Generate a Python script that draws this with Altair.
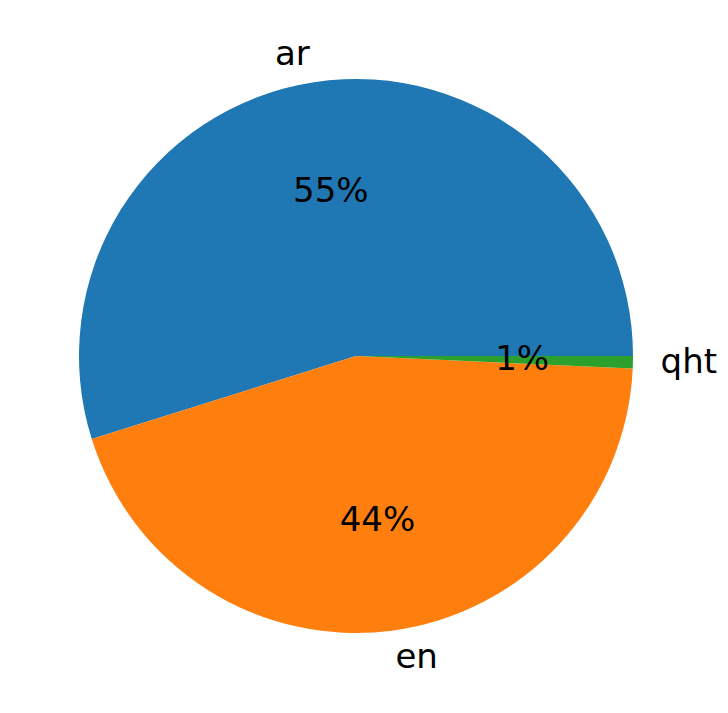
import math
import altair as alt
import pandas as pd

labels = ["ar", "en", "qht"]
shares = [54.85, 44.43, 0.72]
pct_labels = ["55%", "44%", "1%"]
colors = ["#1f77b4", "#ff7f0e", "#2ca02c"]

df = pd.DataFrame({"label": labels, "value": shares, "pct": pct_labels,
                   "idx": list(range(len(labels)))})

CX, CY, R = 348, 348, 277
theta_scale = alt.Scale(domain=[0, 100], range=[math.pi / 2, math.pi / 2 - 2 * math.pi])
color = alt.Color("label:N", scale=alt.Scale(domain=labels, range=colors), legend=None)

base = alt.Chart(df)

pie = base.mark_arc(radius=R, stroke=None).encode(
    theta=alt.Theta("value:Q", stack=True, scale=theta_scale),
    order=alt.Order("idx:Q"),
    color=color,
    x=alt.value(CX), y=alt.value(CY),
)

mids = base.transform_window(
    cum="sum(value)", sort=[alt.SortField("idx")], frame=[None, 0]
).transform_calculate(mid="datum.cum - datum.value / 2")

font = dict(font="DejaVu Sans", fontSize=34, color="black", baseline="middle")

pct = mids.mark_text(radius=0.6 * R, align="center", **font).encode(
    theta=alt.Theta("mid:Q", stack=None, scale=theta_scale),
    text="pct:N", x=alt.value(CX), y=alt.value(CY),
)

name_right = mids.transform_filter("datum.label == 'ar'").mark_text(
    radius=1.1 * R, align="right", **font).encode(
    theta=alt.Theta("mid:Q", stack=None, scale=theta_scale),
    text="label:N", x=alt.value(CX), y=alt.value(CY),
)
name_left = mids.transform_filter("datum.label != 'ar'").mark_text(
    radius=1.1 * R, align="left", **font).encode(
    theta=alt.Theta("mid:Q", stack=None, scale=theta_scale),
    text="label:N", x=alt.value(CX), y=alt.value(CY),
)

chart = alt.layer(pie, pct, name_right, name_left).properties(
    width=712, height=697, autosize=alt.AutoSizeParams(type="none"),
    padding=0,
).configure_view(stroke=None)

chart.save("out.html", embed_options={"renderer": "svg", "actions": False})
